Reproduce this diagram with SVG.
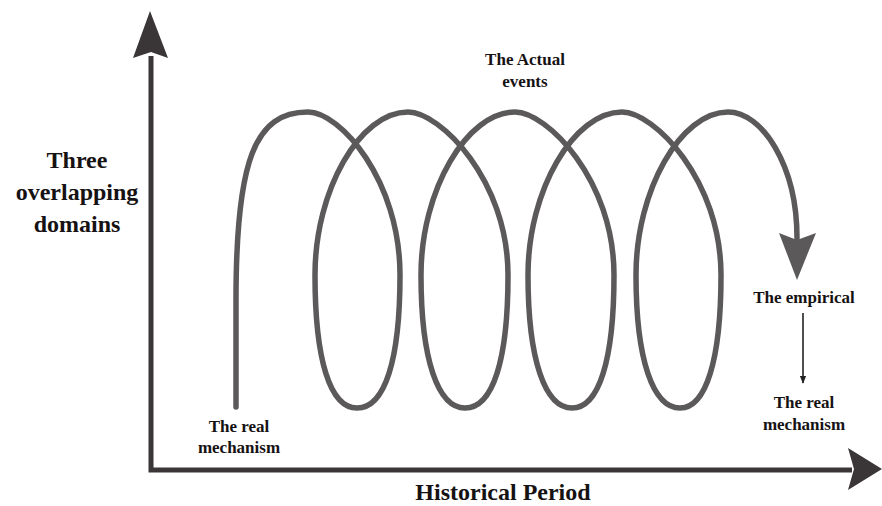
<svg xmlns="http://www.w3.org/2000/svg" width="882" height="506" viewBox="0 0 882 506">
<defs>
<style>
.lbl{font-family:"Liberation Serif","Times New Roman",serif;font-weight:bold;fill:#161214;text-anchor:middle}
.big{font-size:24px}
.sm{font-size:17px}
.axis{stroke:#3a3536;stroke-width:5;fill:none}
.spiral{stroke:#5b595a;stroke-width:5.5;fill:none;stroke-linecap:round}
</style>
<marker id="thin" viewBox="0 0 10 10" refX="9" refY="5" markerWidth="5" markerHeight="5" orient="auto" markerUnits="strokeWidth">
<path d="M0,1 L10,5 L0,9 Z" fill="#222"/>
</marker>
</defs>
<rect width="882" height="506" fill="#ffffff"/>
<g id="axes">
<path class="axis" d="M151,56 L151,470 L852,470"/>
<polygon points="150,11 168,58 151,52 133,58" fill="#3a3536"/>
<polygon points="882,469 848,448 854,469 848,490" fill="#3a3536"/>
</g>
<g id="connectors">
<path class="spiral" d="M236,407 L236,300 C236,160 255,112 308,112
C340,112 400,180 400,275 C400,360 385,408 357,408 C330,408 315,360 315,275 C315,190 360,112 408,112
C440,112 508,180 508,275 C508,360 493,408 465,408 C438,408 421,360 421,275 C421,190 467,112 515,112
C547,112 614,180 614,275 C614,360 599,408 572,408 C545,408 528,360 528,275 C528,190 574,112 622,112
C654,112 721,180 721,275 C721,360 706,408 680,408 C653,408 636,360 636,275 C636,190 681,112 728,112
C762,112 797,165 797,238"/>
<polygon points="779,233 797,240 816,233 797,280" fill="#5b595a"/>
<line x1="803" y1="313" x2="803" y2="383" stroke="#222" stroke-width="1.6" marker-end="url(#thin)"/>
</g>
<g id="y-label">
<text class="lbl big" x="77" y="168">Three</text>
<text class="lbl big" x="77" y="200">overlapping</text>
<text class="lbl big" x="77" y="232">domains</text>
</g>
<g id="x-label">
<text class="lbl big" x="503" y="500">Historical Period</text>
</g>
<g id="actual-events">
<text class="lbl sm" x="525" y="65">The Actual</text>
<text class="lbl sm" x="525" y="87">events</text>
</g>
<g id="real-mechanism-start">
<text class="lbl sm" x="239" y="432">The real</text>
<text class="lbl sm" x="239" y="453">mechanism</text>
</g>
<g id="empirical">
<text class="lbl sm" x="804" y="303">The empirical</text>
</g>
<g id="real-mechanism-end">
<text class="lbl sm" x="804" y="408">The real</text>
<text class="lbl sm" x="804" y="430">mechanism</text>
</g>
</svg>
